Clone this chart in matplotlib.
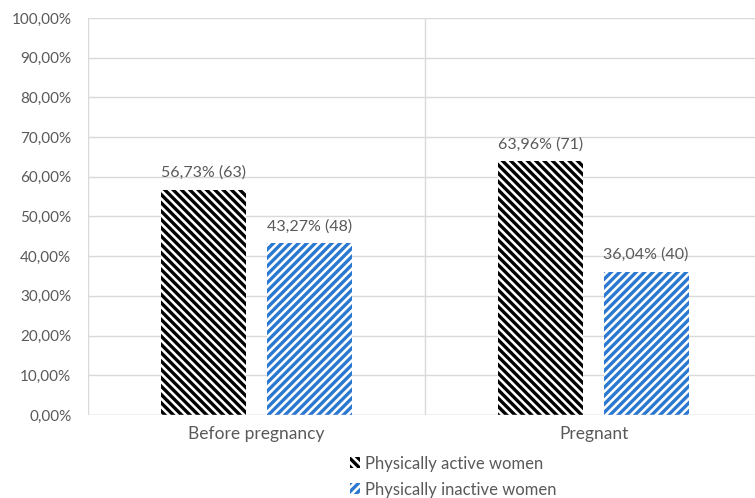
import matplotlib.pyplot as plt
import matplotlib.patches as mpatches
from matplotlib.ticker import FuncFormatter
import numpy as np

categories = ['Before pregnancy', 'Pregnant']
series_names = ['Physically active women', 'Physically inactive women']
active_pct = [56.73, 63.96]
inactive_pct = [43.27, 36.04]
active_n = [63, 71]
inactive_n = [48, 40]

colors = ['#000000', '#2a78d0']
hatches = ['\\' * 4, '/' * 4]
grey_text = '#595959'
grid_col = '#d9d9d9'

plt.rcParams['font.family'] = ['Lato', 'DejaVu Sans']
plt.rcParams['hatch.linewidth'] = 2.4

fig = plt.figure(figsize=(7.55, 4.98), dpi=100)
ax = fig.add_axes([0.1166, 0.1667, 0.8927, 0.7972])

x = np.arange(len(categories))
width = 0.252
offset = 0.156

def pct(v):
    return ('%.2f%%' % v).replace('.', ',')

for vals, ns, off, col, h in [(active_pct, active_n, -offset, colors[0], hatches[0]),
                               (inactive_pct, inactive_n, offset, colors[1], hatches[1])]:
    ax.bar(x + off, vals, width, color='white', edgecolor=col, hatch=h, linewidth=0, zorder=3)
    for xi, v, n in zip(x + off, vals, ns):
        ax.annotate('%s (%d)' % (pct(v), n), (xi, v), xytext=(0, 7), textcoords='offset points',
                    ha='center', va='bottom', fontsize=11.5, color=grey_text)

ax.set_xlim(-0.5, 1.5)
ax.set_ylim(0, 100)
ax.set_yticks(np.arange(0, 101, 10))
ax.yaxis.set_major_formatter(FuncFormatter(lambda v, p: pct(v)))
ax.set_xticks(x)
ax.set_xticklabels(categories)
ax.tick_params(length=0, labelcolor=grey_text)
ax.tick_params(axis='y', pad=12, labelsize=11)
ax.tick_params(axis='x', pad=8, labelsize=12.5)

ax.grid(axis='y', color=grid_col, linewidth=1, zorder=0)
for b in [-0.5, 0.5, 1.5]:
    ax.axvline(b, color=grid_col, linewidth=1, zorder=1)
for s in ax.spines.values():
    s.set_visible(False)
ax.axhline(0, color=grid_col, linewidth=1, zorder=4)

handles = [mpatches.Patch(facecolor='white', edgecolor=c, hatch=h, linewidth=0)
           for c, h in zip(colors, hatches)]
fig.legend(handles, series_names, loc='upper center', bbox_to_anchor=(0.6, 0.102),
           ncol=1, frameon=False, fontsize=12, labelcolor=grey_text,
           handlelength=0.6, handleheight=0.6, handletextpad=0.3, labelspacing=0.6,
           borderpad=0)

fig.savefig('out.png', dpi=100)
